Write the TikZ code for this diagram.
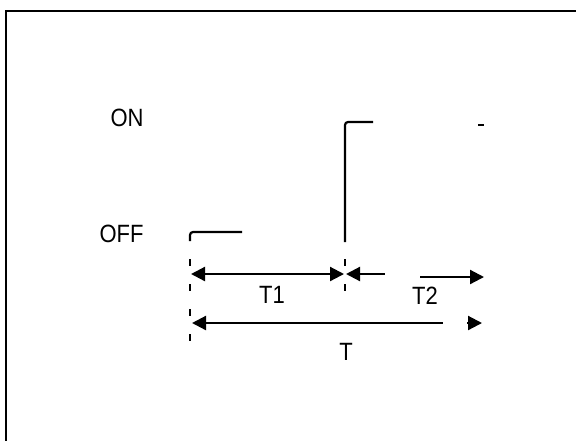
\documentclass[tikz,border=0pt]{standalone}
\usepackage{fontspec}
\setmainfont{Liberation Sans}[FakeStretch=0.88]
\usetikzlibrary{arrows.meta}

\begin{document}
\begin{tikzpicture}[x=0.5pt,y=-0.5pt,
  font=\fontsize{12.5}{14}\selectfont,
  lvl/.style={anchor=east,inner sep=0pt},
  lab/.style={inner sep=0pt},
  sig/.style={line width=1.1pt,rounded corners=1.5pt},
  guide/.style={line width=1.1pt,dash pattern=on 3.5pt off 9pt},
  ar/.style={line width=1.1pt,>={Triangle[length=7pt,width=7pt]}}]
  \useasboundingbox (0,0) rectangle (576,440);
  \clip (0,0) rectangle (576,440);
  \draw[line width=1.4pt] (6,11) rectangle (640,500);
  % levels
  \node[lvl] (on) at (144,118) {ON};
  \node[lvl] (off) at (144,234) {OFF};
  % signal
  \coordinate (offR) at (242,232);
  \coordinate (offL) at (190,232);
  \coordinate (offD) at (190,241);
  \coordinate (upB) at (345,242);
  \coordinate (upT) at (345,122);
  \coordinate (onR) at (373,122);
  \coordinate (nxA) at (478,125);
  \coordinate (nxB) at (484,125);
  \draw[sig] (offR) -- (offL) -- (offD);
  \draw[sig] (upB) -- (upT) -- (onR);
  \draw[sig] (nxA) -- (nxB);
  % guides
  \coordinate (gA) at (190,259);
  \coordinate (gB) at (190,343);
  \coordinate (gC) at (345,259);
  \coordinate (gD) at (345,292);
  \draw[guide] (gA) -- (gB);
  \draw[guide] (gC) -- (gD);
  % spans
  \coordinate (a0) at (191,274);
  \coordinate (a1) at (344,274);
  \coordinate (b0) at (346,274);
  \coordinate (b1) at (385,274);
  \coordinate (b2) at (420,277);
  \coordinate (b3) at (484,277);
  \coordinate (c0) at (192,323);
  \coordinate (c1) at (443,323);
  \coordinate (c2) at (467,323);
  \coordinate (c3) at (482,323);
  \draw[ar,<->] (a0) -- (a1);
  \draw[ar,<-] (b0) -- (b1);
  \draw[ar,->] (b2) -- (b3);
  \draw[ar,<-] (c0) -- (c1);
  \draw[ar,->] (c2) -- (c3);
  \node[lab] (t1) at (272,295) {T1};
  \node[lab] (t2) at (425,296) {T2};
  \node[lab] (tt) at (346,352) {T};
\end{tikzpicture}
\end{document}
